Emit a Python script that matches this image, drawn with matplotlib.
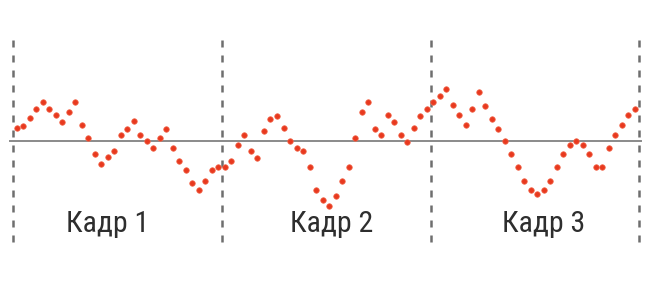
import numpy as np
import matplotlib.pyplot as plt

# signal samples, grouped by frame (amplitude, arbitrary units)
frame1 = [12.7, 15.3, 22.7, 32, 39, 32, 25.7, 19.3, 29, 38.7, 16, 3.3, -13, -23.3, -16.3, -10,
          5.7, 12.3, 19.7, 6.3, 0, -7, 3, 12.3, -7, -19.7, -29.3, -42.3, -49, -40, -29.3, -26.3, -26.3]
frame2 = [-19.7, -3.7, 6.3, -10.3, -17, 9.7, 22, 25.3, 13, 0, -7, -10.3, -26.3, -49.3, -58.7, -65.3,
          -55.3, -39.7, -26.3, 3, 29, 38.7, 12.3, 6, 25.7, 19, 6, -0.7, 12.7, 25.3, 32, 38.7, 45.3]
frame3 = [52, 35.7, 25.7, 15.7, 32, 48.7, 35.3, 22, 12.3, 0, -13.3, -26.3, -39.7, -49.3, -52.7, -49.3,
          -39.7, -26.3, -13.3, -3.7, 0, -3.7, -13.3, -26.3, -26.3, -7, 6, 15.7, 25.7, 32]
frame_labels = ["Кадр 1", "Кадр 2", "Кадр 3"]
frame_edges = [-0.57, 31.55, 63.66, 95.6]

samples = np.array(frame1 + frame2 + frame3)
idx = np.arange(len(samples))

fig = plt.figure(figsize=(6.54, 3.0), dpi=100)
ax = fig.add_axes([0, 0, 1, 1])
ax.set_xlim(-2.566, 97.93)
ax.set_ylim(-159, 141)
ax.axis("off")

# zero line
ax.plot([-1.0, 96.0], [0, 0], color="#8a8a8a", lw=1.4, zorder=1)

# frame borders
for e in frame_edges:
    ax.plot([e, e], [-101, 106], color="#6e6e6e", lw=1.8,
            linestyle=(0, (2.8, 3.2)), zorder=1)

ax.plot(idx, samples, linestyle="none", marker="o", ms=4.0,
        color="#e8391f", mec="#f26a4f", mew=0.5, zorder=3)

label_x = [14.03, 48.45, 81.0]
for x, lab in zip(label_x, frame_labels):
    ax.text(x, -83, lab, ha="center", va="center", fontsize=21.5, color="#2e2e2e",
            family=["Roboto Condensed", "Roboto", "DejaVu Sans"], fontstretch="condensed")

fig.savefig("out.png", dpi=100, facecolor="white")
